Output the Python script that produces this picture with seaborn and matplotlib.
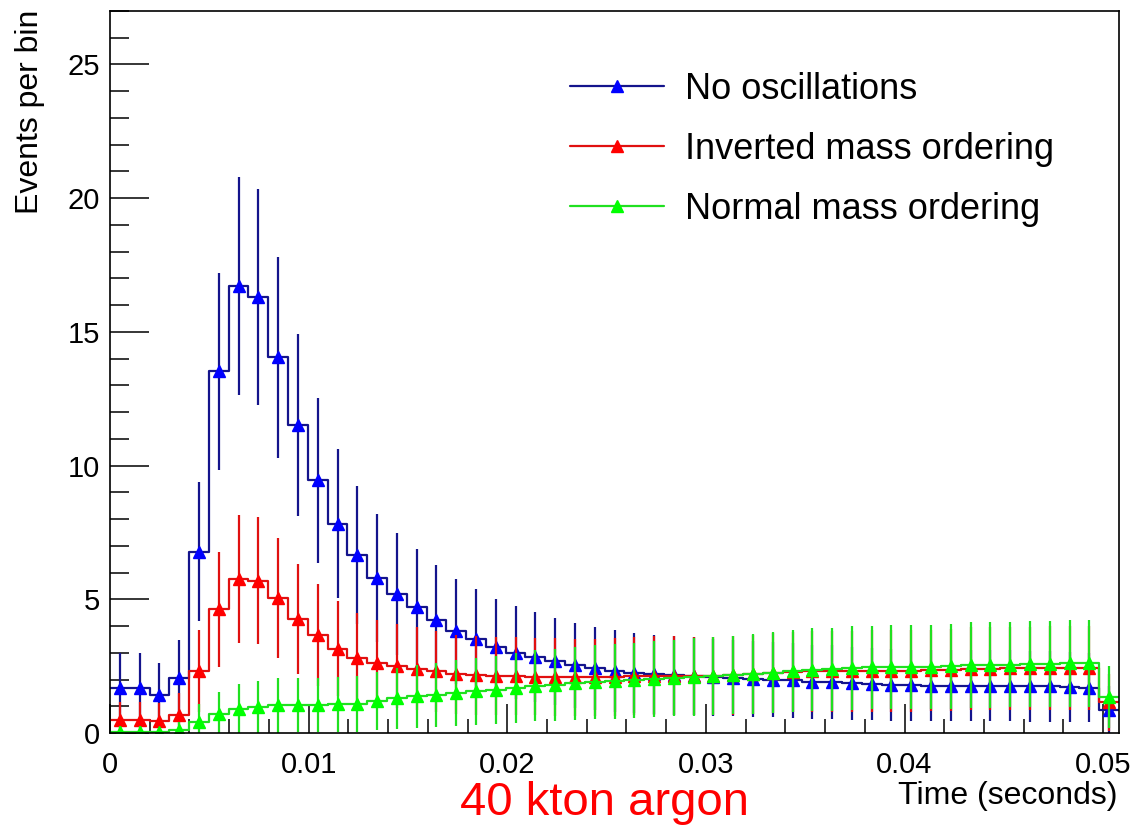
import numpy as np
import pandas as pd
import matplotlib
matplotlib.use("Agg")
import matplotlib.pyplot as plt
from matplotlib.lines import Line2D
from matplotlib.ticker import MultipleLocator, FuncFormatter
import seaborn as sns

# Supernova burst event counts per time bin (40 kton liquid argon)
bin_width = 0.000996  # seconds

no_oscillations = [
    1.70, 1.70, 1.42, 2.05, 6.78, 13.52, 16.72, 16.30, 14.05, 11.52,
    9.45, 7.83, 6.65, 5.80, 5.20, 4.70, 4.24, 3.80, 3.52, 3.22,
    3.00, 2.84, 2.68, 2.53, 2.42, 2.32, 2.25, 2.19, 2.16, 2.12,
    2.08, 2.05, 2.02, 2.00, 1.97, 1.92, 1.90, 1.86, 1.83, 1.80,
    1.78, 1.77, 1.77, 1.76, 1.76, 1.76, 1.75, 1.75, 1.71, 1.70,
    0.85,
]
inverted_ordering = [
    0.48, 0.48, 0.44, 0.68, 2.33, 4.62, 5.75, 5.70, 5.05, 4.25,
    3.65, 3.15, 2.82, 2.62, 2.50, 2.40, 2.30, 2.20, 2.16, 2.13,
    2.12, 2.11, 2.09, 2.08, 2.08, 2.10, 2.13, 2.15, 2.15, 2.13,
    2.14, 2.16, 2.20, 2.24, 2.28, 2.30, 2.30, 2.31, 2.32, 2.32,
    2.33, 2.34, 2.35, 2.40, 2.41, 2.42, 2.42, 2.43, 2.43, 2.43,
    1.15,
]
normal_ordering = [
    0.05, 0.05, 0.02, 0.10, 0.42, 0.70, 0.90, 0.97, 1.03, 1.04,
    1.05, 1.07, 1.08, 1.19, 1.30, 1.37, 1.43, 1.50, 1.56, 1.62,
    1.68, 1.76, 1.81, 1.86, 1.90, 1.93, 1.97, 2.02, 2.06, 2.09,
    2.14, 2.17, 2.21, 2.26, 2.32, 2.37, 2.38, 2.44, 2.45, 2.46,
    2.46, 2.48, 2.49, 2.55, 2.55, 2.56, 2.58, 2.59, 2.60, 2.60,
    1.35,
]

series_labels = ["No oscillations", "Inverted mass ordering", "Normal mass ordering"]
line_colors = ["#14148c", "#e01010", "#20e020"]
marker_colors = ["#0000ff", "#ff0000", "#00ff00"]

sns.set_theme(style="ticks")
plt.rcParams["font.family"] = ["Liberation Sans", "DejaVu Sans"]
plt.rcParams["text.color"] = "black"
plt.rcParams["axes.labelcolor"] = "black"

fig = plt.figure(figsize=(11.38, 8.27), dpi=100)
W, H = 1138, 827
ax = fig.add_axes([110 / W, 1 - 733 / H, (1119 - 110) / W, (733 - 11) / H])

n_bins = len(no_oscillations)
t_max = n_bins * bin_width
centers = (np.arange(n_bins) + 0.5) * bin_width

handles = []
for vals, lc, mc, lab in zip([no_oscillations, inverted_ordering, normal_ordering],
                             line_colors, marker_colors, series_labels):
    df = pd.DataFrame({"time": centers, "events": vals})
    sns.histplot(data=df, x="time", weights="events", binwidth=bin_width,
                 binrange=(0, t_max), element="step", fill=False, color=lc,
                 linewidth=1.6, ax=ax)
    # Poisson uncertainty on each bin
    ax.errorbar(df["time"], df["events"], yerr=np.sqrt(df["events"]), fmt="none",
                ecolor=lc, elinewidth=1.6, capsize=0)
    ax.plot(df["time"], df["events"], ls="none", marker="^", ms=8, color=mc, mec=mc)
    handles.append(Line2D([0], [0], color=lc, lw=1.6, marker="^", ms=8,
                          mfc=mc, mec=mc, label=lab))

ax.set_xlim(0, t_max)
ax.set_ylim(0, 27)

ax.xaxis.set_major_locator(MultipleLocator(0.01))
ax.xaxis.set_minor_locator(MultipleLocator(0.002))
ax.yaxis.set_major_locator(MultipleLocator(5))
ax.yaxis.set_minor_locator(MultipleLocator(1))
ax.xaxis.set_major_formatter(FuncFormatter(lambda v, _: "0" if abs(v) < 1e-9 else f"{v:.2f}"))
ax.yaxis.set_major_formatter(FuncFormatter(lambda v, _: f"{v:.0f}"))

ax.tick_params(axis="both", which="both", direction="in", top=False, right=False,
               colors="black", labelsize=21)
ax.tick_params(axis="x", which="major", length=21, width=1.1, pad=13)
ax.tick_params(axis="x", which="minor", length=10, width=1.1)
ax.tick_params(axis="y", which="major", length=28, width=1.1, pad=7)
ax.tick_params(axis="y", which="minor", length=14, width=1.1)
for s in ax.spines.values():
    s.set_linewidth(1.2)
    s.set_color("black")

ax.set_xlabel("")
ax.set_ylabel("")
fig.text(1117 / W, 1 - 796 / H, "Time (seconds)", ha="right", va="center",
         fontsize=23, color="black")
fig.text(30 / W, 1 - 10 / H, "Events per bin", ha="center", va="top",
         rotation=90, fontsize=23, color="black")
fig.text(605 / W, 1 - 803 / H, "40 kton argon", ha="center", va="center",
         fontsize=34, color="#ff0000")

ax.legend(handles=handles, loc="upper left", bbox_to_anchor=(570 / W, 1 - 72 / H),
          bbox_transform=fig.transFigure, frameon=False, fontsize=26,
          handlelength=2.6, handletextpad=0.58, labelspacing=0.69,
          borderpad=0, borderaxespad=0, labelcolor="black")

fig.savefig("out.png", dpi=100, facecolor="white")
